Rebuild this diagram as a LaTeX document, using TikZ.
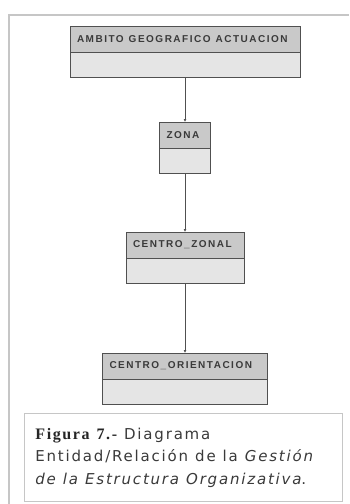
\documentclass[tikz,border=0pt]{standalone}
\usepackage{fontspec}
\usepackage[dvipsnames]{xcolor}
\definecolor{CABcolor}{HTML}{c9c9c9}
\definecolor{CUERPOcolor}{HTML}{e5e5e5}
\definecolor{BORDEcolor}{HTML}{505050}
\definecolor{MARCOcolor}{HTML}{c6c6c6}
\definecolor{TEXTOcolor}{HTML}{3a3a3a}
\newfontfamily\fuentecab[LetterSpace=15]{Liberation Sans}
\newfontfamily\fuentepie[LetterSpace=12]{DejaVu Sans}
\newfontfamily\fuentefig[LetterSpace=10]{Liberation Serif}
\newcommand\letracab{\fuentecab\fontsize{10pt}{11pt}\selectfont\bfseries}
\newcommand\letrapie{\fuentepie\fontsize{15pt}{22.5pt}\selectfont}
\usepackage{tikz}
\usetikzlibrary{positioning,arrows.meta}

\begin{document}
\begin{tikzpicture}[x=1pt, y=-1pt]

    \tikzset{%
        cabecera/.style={%
                draw=BORDEcolor, fill=CABcolor, line width=0.9pt,
                minimum height=26pt, inner xsep=7pt, inner ysep=0pt,
                outer sep=0pt, anchor=north, align=left,
                font=\letracab, text=TEXTOcolor,
                execute at begin node={\spaceskip=5pt\relax}
            },
        cuerpo/.style={%
                draw=BORDEcolor, fill=CUERPOcolor, line width=0.9pt,
                minimum height=25pt, inner sep=0pt, outer sep=0pt
            },
        conector/.style={%
                draw=BORDEcolor, line width=0.8pt,
                -{Latex[length=3pt, width=3pt]}
            },
        marco/.style={draw=MARCOcolor, line width=1.2pt}
    }

    \useasboundingbox (0, 0) rectangle (349, 504);
    \fill [white] (0, 0) rectangle (349, 504);
    \draw [marco] (9, 504) |- (349, 15);

    % entidades
    \foreach \nombre/\texto/\ancho/\arriba in {%
            ambito/{AMBITO GEOGRAFICO ACTUACION}/230/26,
            zona/ZONA/51/122,
            czonal/CENTRO\_ZONAL/118/232,
            corient/CENTRO\_ORIENTACION/165/353} {%
            \pgfmathsetmacro\anchotexto{\ancho-14}
            \node [cabecera, minimum width=\ancho pt, text width=\anchotexto pt]
                (\nombre) at (185, \arriba) {\texto};
            \node [cuerpo, minimum width=\ancho pt, below=0pt of \nombre]
                (\nombre-c) {};
        }

    % relaciones
    \foreach \de/\a in {ambito/zona, zona/czonal, czonal/corient} {%
            \draw [conector] (\de-c.south) -- (\a.north);
        }

    % pie de figura
    \node [draw=MARCOcolor, line width=0.8pt, anchor=north west,
        minimum height=88pt, text width=296pt, inner xsep=11pt, inner ysep=0pt,
        align=left, text=TEXTOcolor, font=\letrapie,
        execute at begin node={\spaceskip=7pt\relax}]
        (pie) at (24, 413) {%
            {\fuentefig\fontsize{16pt}{22.5pt}\selectfont\bfseries\color{black!85}Figura 7.-} Diagrama\\
            Entidad/Relación de la \textit{Gestión}\\
            \textit{de la Estructura Organizativa}.};

\end{tikzpicture}
\end{document}
